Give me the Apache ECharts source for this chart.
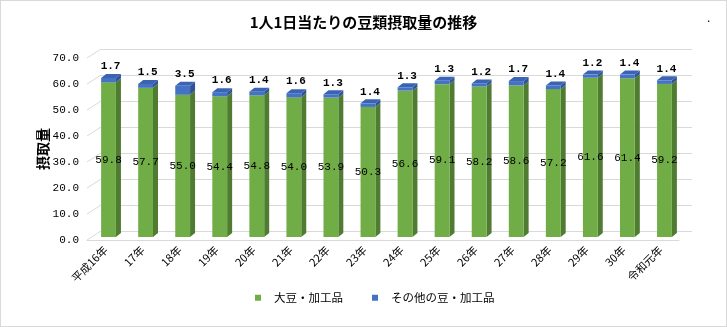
<!DOCTYPE html>
<html>
<head>
<meta charset="utf-8">
<script src="https://cdn.jsdelivr.net/npm/echarts@6/dist/echarts.min.js"></script>
<style>
  html, body { margin: 0; padding: 0; background: #fff; }
  #chart { width: 727px; height: 327px; box-sizing: border-box; border: 1px solid #d9d9d9; }
</style>
</head>
<body>
<div id="chart"></div>
<script>
// 年度ラベル
const categories = ['平成16年', '17年', '18年', '19年', '20年', '21年', '22年', '23年',
  '24年', '25年', '26年', '27年', '28年', '29年', '30年', '令和元年'];
// 大豆・加工品 (g)
const soyValues = [59.8, 57.7, 55.0, 54.4, 54.8, 54.0, 53.9, 50.3, 56.6, 59.1, 58.2, 58.6, 57.2, 61.6, 61.4, 59.2];
// その他の豆・加工品 (g)
const otherValues = [1.7, 1.5, 3.5, 1.6, 1.4, 1.6, 1.3, 1.4, 1.3, 1.3, 1.2, 1.7, 1.4, 1.2, 1.4, 1.4];
// 縦軸の目盛
const yTicks = [0, 10, 20, 30, 40, 50, 60, 70];

const seriesNames = ['大豆・加工品', 'その他の豆・加工品'];
const colors = {
  green: '#70ad47', greenSide: '#4f7c31',
  blue: '#4472c4', blueSide: '#2f5597', blueTop: '#3a64b3'
};
const monoFont = "'Liberation Mono', 'DejaVu Sans Mono', monospace";
const jpFont = "'Noto Sans CJK JP', sans-serif";
const depth = { dx: 5, dy: 4 };

const chart = echarts.init(document.getElementById('chart'));

// 立体の側面・上面
function renderSides(params, api) {
  const idx = api.value(0);
  const g = api.value(1);
  const b = api.value(2);
  const base = api.coord([idx, 0]);
  const pg = api.coord([idx, g]);
  const pt = api.coord([idx, g + b]);
  const w = api.size([1, 0])[0] * 0.4;
  const xl = base[0] - w / 2, xr = base[0] + w / 2;
  const { dx, dy } = depth;
  return {
    type: 'group',
    children: [
      { type: 'polygon', shape: { points: [[xr, base[1]], [xr + dx, base[1] - dy], [xr + dx, pg[1] - dy], [xr, pg[1]]] },
        style: { fill: colors.greenSide } },
      { type: 'polygon', shape: { points: [[xr, pg[1]], [xr + dx, pg[1] - dy], [xr + dx, pt[1] - dy], [xr, pt[1]]] },
        style: { fill: colors.blueSide } },
      { type: 'polygon', shape: { points: [[xl, pt[1]], [xl + dx, pt[1] - dy], [xr + dx, pt[1] - dy], [xr, pt[1]]] },
        style: { fill: colors.blueTop } }
    ]
  };
}

// 奥の壁から手前の軸へ伸びる斜線
function renderDiagonals(params, api) {
  const p = api.coord([0, api.value(0)]);
  return { type: 'line', shape: { x1: p[0], y1: p[1], x2: p[0] - 14, y2: p[1] + 9 },
    style: { stroke: '#d9d9d9', lineWidth: 1 } };
}

chart.setOption({
  animation: false,
  title: {
    text: '1人1日当たりの豆類摂取量の推移',
    left: 'center', top: 9,
    textStyle: { fontFamily: jpFont, fontSize: 15, fontWeight: 'bold', color: '#000' }
  },
  graphic: [{ type: 'text', left: 706, top: 12, style: { text: '.', fontSize: 12, fill: '#000' } }],
  legend: {
    data: seriesNames,
    top: 286, left: 249,
    icon: 'rect', itemWidth: 6, itemHeight: 6, itemGap: 29,
    textStyle: { fontFamily: jpFont, fontSize: 11.5, color: '#000', padding: [0, 0, 0, 8] }
  },
  grid: [
    { left: 100, right: 34, top: 48, bottom: 95 },  // 奥の壁
    { left: 86, right: 47, top: 57, bottom: 86 },   // 手前の軸
    { left: 89, right: 43, top: 55, bottom: 89 }    // 棒
  ],
  xAxis: [
    { gridIndex: 0, type: 'value', min: 0, max: 1, show: false },
    { gridIndex: 1, type: 'category', data: categories,
      axisLine: { lineStyle: { color: '#d9d9d9' } }, axisTick: { show: false },
      axisLabel: { rotate: 45, margin: 8, interval: 0, fontFamily: jpFont, fontSize: 11, color: '#000' } },
    { gridIndex: 2, type: 'category', data: categories, show: false }
  ],
  yAxis: [
    { gridIndex: 0, type: 'value', min: 0, max: 70, interval: 10,
      axisLine: { show: false }, axisTick: { show: false }, axisLabel: { show: false },
      splitLine: { lineStyle: { color: '#d9d9d9', width: 1 } } },
    { gridIndex: 1, type: 'value', min: 0, max: 70, interval: 10,
      name: '摂取量', nameLocation: 'middle', nameRotate: 90, nameGap: 37, nameMoveOverlap: false,
      nameTextStyle: { fontFamily: jpFont, fontSize: 14, fontWeight: 'bold', color: '#000' },
      axisLine: { show: false }, axisTick: { show: false }, splitLine: { show: false },
      axisLabel: { margin: 8, fontFamily: monoFont, fontSize: 11, color: '#000',
        formatter: v => v.toFixed(1) } },
    { gridIndex: 2, type: 'value', min: 0, max: 70, show: false, splitLine: { show: false } }
  ],
  series: [
    { type: 'custom', xAxisIndex: 0, yAxisIndex: 0, silent: true, z: 1,
      data: yTicks.map(v => [v]), renderItem: renderDiagonals },
    { name: seriesNames[0], type: 'bar', stack: 'beans', xAxisIndex: 2, yAxisIndex: 2,
      barWidth: '40%', z: 3, data: soyValues, itemStyle: { color: colors.green },
      label: { show: true, position: 'inside', fontFamily: monoFont, fontSize: 11, color: '#000',
        formatter: p => p.value.toFixed(1) } },
    { name: seriesNames[1], type: 'bar', stack: 'beans', xAxisIndex: 2, yAxisIndex: 2,
      barWidth: '40%', z: 3, data: otherValues, itemStyle: { color: colors.blue },
      label: { show: true, position: 'top', distance: 6, offset: [2, 0], fontFamily: monoFont,
        fontSize: 11, fontWeight: 'bold', color: '#000', formatter: p => p.value.toFixed(1) } },
    { type: 'custom', xAxisIndex: 2, yAxisIndex: 2, silent: true, z: 2,
      data: soyValues.map((v, i) => [i, v, otherValues[i]]), renderItem: renderSides }
  ]
});
</script>
</body>
</html>
